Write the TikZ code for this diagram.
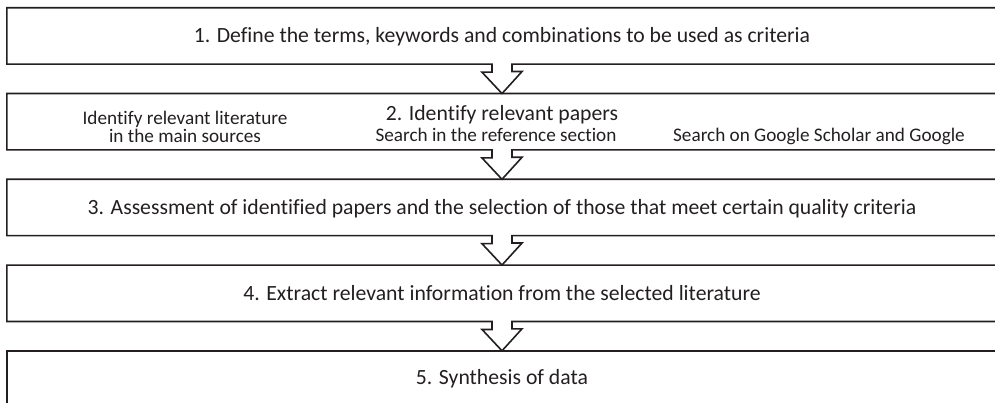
\documentclass[tikz,border=0pt]{standalone}
\usepackage{fontspec}
\setmainfont{Carlito}[Ligatures=NoCommon]
\usetikzlibrary{positioning}
\definecolor{inkgray}{HTML}{231F20}

\begin{document}
\begin{tikzpicture}[x=1pt,y=-1pt,node distance=85.75pt,on grid,
  band/.style={minimum width=990pt,minimum height=56pt,inner sep=0pt},
  outline/.style={draw=inkgray,line width=1.6pt,line join=miter},
  stagetext/.style={anchor=base,inner sep=0pt,text=inkgray,font=\fontsize{21.7}{24}\selectfont},
  subtext/.style={anchor=base,inner sep=0pt,text=inkgray,align=center,font=\fontsize{19.2}{15.2}\selectfont}]

    \useasboundingbox (0,0) rectangle (995,403);

    \node[band] (S1) at (502,36) {};
    \node[band] (S2) [below =of S1] {};
    \node[band] (S3) [below =of S2] {};
    \node[band] (S4) [below =of S3] {};
    \node[band] (S5) [below =of S4] {};

    \node[stagetext] (T1) at ([yshift=-35pt]S1.north) {1. Define the terms, keywords and combinations to be used as criteria};
    \node[stagetext] (T2) at ([yshift=-27pt]S2.north) {2. Identify relevant papers};
    \node[subtext] (L2a) at ([xshift=-317pt,yshift=-48.5pt]S2.north) {Identify relevant literature\\[0pt]in the main sources};
    \node[subtext] (L2b) at ([xshift=-6pt,yshift=-48pt]S2.north) {Search in the reference section};
    \node[subtext] (L2c) at ([xshift=317pt,yshift=-48pt]S2.north) {Search on Google Scholar and Google};
    \node[stagetext] (T3) at ([yshift=-35pt]S3.north) {3. Assessment of identified papers and the selection of those that meet certain quality criteria};
    \node[stagetext] (T4) at ([yshift=-35pt]S4.north) {4. Extract relevant information from the selected literature};
    \node[stagetext] (T5) at ([yshift=-34pt]S5.north) {5. Synthesis of data};

    % band outlines with the down arrow
    \foreach \a/\b in {S1/S2,S2/S3,S3/S4,S4/S5}
      \draw[outline] (\a.north east) -- (\a.north west) -- (\a.south west)
        -- ([xshift=-10pt]\a.south) -- ++(0,8) -- ++(-10,0) -- (\b.north)
        -- ++(20,-22) -- ++(-10,0) -- ([xshift=10pt]\a.south) -- (\a.south east);
    \draw[outline] (S5.north east) -- (S5.north west) -- (S5.south west);

\end{tikzpicture}
\end{document}
